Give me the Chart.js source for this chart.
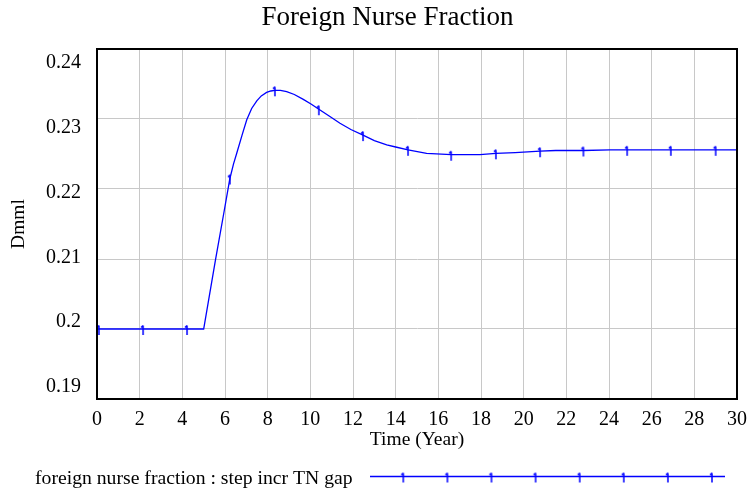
<!DOCTYPE html>
<html>
<head>
<meta charset="utf-8">
<script src="https://cdn.jsdelivr.net/npm/chart.js@4/dist/chart.umd.min.js"></script>
<style>
  html, body { margin: 0; padding: 0; background: #fff; }
  #wrap { width: 749px; height: 492px; }
</style>
</head>
<body>
<div id="wrap"><canvas id="chart" width="749" height="492"></canvas></div>
<script>
// values (Vensim style run)
const years = [0, 0.09, 2.16, 4.22, 5, 5.55, 5.97, 6.23, 6.4, 6.55, 6.8, 7.02, 7.25, 7.49, 7.7, 7.95,
  8.15, 8.34, 8.6, 8.89, 9.25, 9.67, 10.05, 10.4, 10.9, 11.39, 11.9, 12.47, 13.0, 13.58, 14.0,
  14.58, 15.45, 16.6, 17.95, 18.7, 19.6, 20.77, 21.5, 22.8, 24.05, 24.85, 26.9, 29.0, 30];
const fraction = [0.2, 0.2, 0.2, 0.2, 0.2, 0.2098, 0.2170, 0.2215, 0.2236, 0.2251, 0.2277, 0.2299, 0.2315, 0.2326, 0.2333, 0.2338,
  0.2340, 0.2341, 0.2341, 0.2339, 0.2335, 0.2328, 0.2321, 0.2314, 0.2304, 0.2294, 0.2285, 0.2277, 0.2269, 0.2263, 0.2260,
  0.2256, 0.2251, 0.2249, 0.2249, 0.2251, 0.2252, 0.2254, 0.2255, 0.2255, 0.2256, 0.2256, 0.2256, 0.2256, 0.2256];
const markerYears = [0.09, 2.16, 4.22, 6.23, 8.34, 10.4, 12.47, 14.58, 16.6, 18.7, 20.77, 22.8, 24.85, 26.9, 29.0];
const yTicks = [0.19, 0.2, 0.21, 0.22, 0.23, 0.24];

const seriesName = 'foreign nurse fraction : step incr TN gap';
const serif = "'Liberation Serif', 'Times New Roman', serif";
const blue = '#0000ff';

// the little "1" marker Vensim puts on the line
const marker = document.createElement('canvas');
marker.width = 8;
marker.height = 16;
(function () {
  const c = marker.getContext('2d');
  c.strokeStyle = blue;
  c.lineWidth = 1.5;
  c.beginPath();
  c.moveTo(4, 4.5);
  c.lineTo(4, 14);
  c.moveTo(4, 4.5);
  c.lineTo(2, 6.5);
  c.stroke();
})();

const points = years.map((t, i) => ({ x: t, y: fraction[i] }));

// frame round the plot + legend under the axis
const extras = {
  id: 'extras',
  afterDraw(chart) {
    const { ctx, chartArea: a } = chart;
    ctx.save();
    ctx.strokeStyle = '#000';
    ctx.lineWidth = 2;
    ctx.strokeRect(a.left, a.top, a.right - a.left, a.bottom - a.top);

    // legend
    ctx.fillStyle = '#000';
    ctx.font = '19.7px ' + serif;
    ctx.textBaseline = 'alphabetic';
    ctx.textAlign = 'left';
    ctx.fillText(seriesName, 35, chart.height - 8);
    const ly = chart.height - 15.5;
    ctx.strokeStyle = blue;
    ctx.lineWidth = 1.3;
    ctx.beginPath();
    ctx.moveTo(370, ly);
    ctx.lineTo(725, ly);
    ctx.stroke();
    for (let k = 0; k < 8; k++) {
      ctx.drawImage(marker, 403.3 + k * 44.1 - 4, ly - 8);
    }
    ctx.restore();
  }
};

new Chart(document.getElementById('chart'), {
  type: 'line',
  data: {
    datasets: [{
      label: seriesName,
      data: points,
      borderColor: blue,
      backgroundColor: blue,
      borderWidth: 1.3,
      tension: 0,
      fill: false,
      pointStyle: marker,
      pointRadius: ctx => markerYears.includes(years[ctx.dataIndex]) ? 3 : 0,
      pointHoverRadius: 0,
      yAxisID: 'y'
    }]
  },
  options: {
    responsive: false,
    animation: false,
    events: [],
    layout: { padding: { left: 26, right: 0, top: 0, bottom: 37 } },
    plugins: {
      legend: { display: false },
      tooltip: { enabled: false },
      title: {
        display: true,
        text: 'Foreign Nurse Fraction',
        color: '#000',
        font: { family: serif, size: 27, weight: 'normal' },
        padding: { top: 1.4, bottom: 15.2 }
      }
    },
    scales: {
      x: {
        type: 'linear',
        min: 0,
        max: 30,
        ticks: {
          stepSize: 2,
          color: '#000',
          padding: 9,
          font: { family: serif, size: 20 }
        },
        grid: { color: '#c8c8c8', lineWidth: 1, drawTicks: false },
        border: { color: '#000', width: 2 },
        title: {
          display: true,
          text: 'Time (Year)',
          color: '#000',
          font: { family: serif, size: 19.5 },
          padding: { top: 0, bottom: 3.5 }
        },
        afterFit: s => {
          s.height = 56;
          s.paddingLeft = 0;
          s.paddingRight = 12;
        }
      },
      y: {
        type: 'linear',
        position: 'left',
        weight: 0,
        min: 0.19,
        max: 0.24,
        afterBuildTicks: s => { s.ticks = yTicks.map(v => ({ value: v })); },
        ticks: { display: false },
        grid: { color: '#c8c8c8', lineWidth: 1, drawTicks: false },
        border: { color: '#000', width: 2 },
        afterFit: s => { s.width = 0; }
      },
      // label-only axis: Vensim spreads the y labels evenly inside the frame
      yLabels: {
        type: 'linear',
        position: 'left',
        weight: 1,
        min: 0.188148,
        max: 0.24216,
        afterBuildTicks: s => { s.ticks = yTicks.map(v => ({ value: v })); },
        ticks: {
          color: '#000',
          padding: 16,
          font: { family: serif, size: 20 },
          callback: v => String(+v.toFixed(3))
        },
        grid: { display: false, drawTicks: false },
        border: { display: false },
        title: {
          display: true,
          text: 'Dmml',
          color: '#000',
          font: { family: serif, size: 19.5 },
          padding: { top: -18.6, bottom: 0 }
        },
        afterFit: s => { s.width = 71; }
      }
    }
  },
  plugins: [extras]
});
</script>
</body>
</html>
